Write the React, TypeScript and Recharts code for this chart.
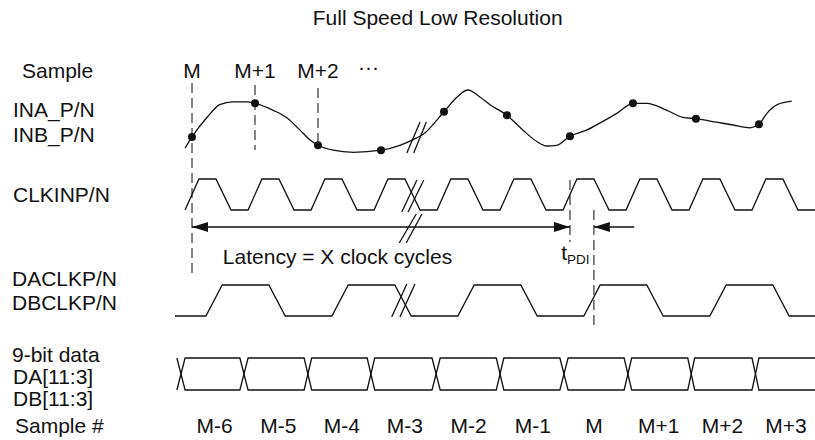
import React from 'react';
import { ComposedChart, Line, Scatter, XAxis, YAxis, ReferenceLine } from 'recharts';

// ---------------- data ----------------
// time axis in clock cycles; 0 = CLKIN rising edge that samples "M"
const title = 'Full Speed Low Resolution';

// CLKINP/N vertices (time, level)
const clkT = [-0.11, 0.11, 0.38, 0.62, 0.89, 1.11, 1.38, 1.62, 1.89, 2.11, 2.38, 2.62, 2.89, 3.11, 3.38, 3.62,
  3.89, 4.11, 4.38, 4.62, 4.89, 5.11, 5.38, 5.62, 5.89, 6.11, 6.38, 6.62, 6.89, 7.11, 7.38, 7.62,
  7.89, 8.11, 8.38, 8.62, 8.89, 9.11, 9.38, 9.62, 9.89];
const clkLevel = [0, 1, 1, 0, 0, 1, 1, 0, 0, 1, 1, 0, 0, 1, 1, 0, 0, 1, 1, 0, 0, 1, 1, 0, 0, 1, 1, 0, 0, 1, 1, 0,
  0, 1, 1, 0, 0, 1, 1, 0, 0];

// DACLKP/N, DBCLKP/N vertices
const dclkT = [-0.27, 0.22, 0.48, 1.22, 1.48, 2.22, 2.48, 3.22, 3.48, 4.22, 4.48, 5.22, 5.48, 6.22, 6.48,
  7.22, 7.48, 8.22, 8.48, 9.22, 9.48, 9.89];
const dclkLevel = [0, 0, 1, 1, 0, 0, 1, 1, 0, 0, 1, 1, 0, 0, 1, 1, 0, 0, 1, 1, 0, 0];

// data bus transitions (start / end of each crossing)
const dataTxStart = [-0.24, 0.76, 1.78, 2.78, 3.81, 4.83, 5.84, 6.86, 7.87, 8.89];
const dataTxEnd = [-0.11, 0.89, 1.9, 2.9, 3.94, 4.95, 5.97, 6.98, 7.98, 9.0];

// analog input INA/INB (normalised amplitude)
const analogT = [-0.11, 0, 0.24, 0.44, 0.65, 0.87, 1.0, 1.29, 1.51, 1.71, 1.87, 2.0, 2.24, 2.56, 3.0, 3.3, 3.51,
  3.7, 4.0, 4.21, 4.38, 4.57, 4.73, 5.0, 5.25, 5.48, 5.63, 5.79, 6.0, 6.27, 6.48, 6.75, 7.0, 7.22, 7.54, 7.79,
  8.0, 8.33, 8.59, 8.86, 9.0, 9.13, 9.29, 9.52];
const analogV = [0.17, 0.33, 0.61, 0.79, 0.83, 0.83, 0.81, 0.71, 0.6, 0.43, 0.29, 0.21, 0.14, 0.11, 0.14, 0.21, 0.29,
  0.39, 0.69, 0.9, 1.0, 0.9, 0.79, 0.64, 0.43, 0.26, 0.2, 0.21, 0.34, 0.43, 0.53, 0.67, 0.81, 0.81, 0.71, 0.61,
  0.59, 0.54, 0.5, 0.46, 0.51, 0.67, 0.79, 0.84];

// sampling instants and sampled values
const sampleT = [0, 1, 2, 3, 4, 5, 6, 7, 8, 9];
const sampleV = [0.33, 0.81, 0.21, 0.14, 0.69, 0.64, 0.34, 0.81, 0.59, 0.51];

// labels
const topLabels = ['M', 'M+1', 'M+2', '···'];
const topLabelT = [0, 1, 2, 2.8];
const outputSamples = ['M-6', 'M-5', 'M-4', 'M-3', 'M-2', 'M-1', 'M', 'M+1', 'M+2', 'M+3'];
const outputSampleT = [0.36, 1.37, 2.38, 3.38, 4.39, 5.41, 6.38, 7.41, 8.42, 9.43];
const laneLabels = ['Sample', 'INA_P/N', 'INB_P/N', 'CLKINP/N', 'DACLKP/N', 'DBCLKP/N', '9-bit data', 'DA[11:3]', 'DB[11:3]', 'Sample #'];
const latencyLabel = 'Latency = X clock cycles';
const markerT = [0, 1, 2];
const latencyEndT = 6.0;
const tpdiEndT = 6.38;

// ---------------- layout / style ----------------
const W = 815;
const H = 440;
const AXIS_W = 175;
const T_MIN = -0.27;
const T_MAX = 9.89;
const FONT = '"Liberation Sans", Arial, Helvetica, sans-serif';
const FS = 21;
const INK = '#111';
const DASH = '#444';
const SW = 1.3;

const ANALOG = { zero: 160, scale: 70 };
const CLK_LANE = { low: 210, high: 179 };
const DCLK_LANE = { low: 316, high: 285 };
const DATA_LANE = { low: 390, high: 358 };
const laneLabelY = [78, 117, 142, 202, 286, 310, 362, 384, 406, 433];
const laneLabelIndent = [22, 13, 13, 13, 12, 12, 12, 13, 13, 15];

const levelY = (lane: { low: number; high: number }, lv: number) => lane.low + (lane.high - lane.low) * lv;

const clkData = clkT.map((t, i) => ({ x: t, y: levelY(CLK_LANE, clkLevel[i]) }));
const dclkData = dclkT.map((t, i) => ({ x: t, y: levelY(DCLK_LANE, dclkLevel[i]) }));
const analogData = analogT.map((t, i) => ({ x: t, y: ANALOG.zero - ANALOG.scale * analogV[i] }));
const sampleData = sampleT.map((t, i) => ({ x: t, y: ANALOG.zero - ANALOG.scale * sampleV[i] }));

const eyeA: { x: number; y: number }[] = [];
const eyeB: { x: number; y: number }[] = [];
{
  let lv = 1;
  dataTxStart.forEach((s, i) => {
    eyeA.push({ x: s, y: levelY(DATA_LANE, lv) });
    eyeB.push({ x: s, y: levelY(DATA_LANE, 1 - lv) });
    lv = 1 - lv;
    eyeA.push({ x: dataTxEnd[i], y: levelY(DATA_LANE, lv) });
    eyeB.push({ x: dataTxEnd[i], y: levelY(DATA_LANE, 1 - lv) });
  });
  eyeA.push({ x: T_MAX, y: levelY(DATA_LANE, lv) });
  eyeB.push({ x: T_MAX, y: levelY(DATA_LANE, 1 - lv) });
}

const TOP_ROW_Y = 78;
const BOTTOM_ROW_Y = 433;
const ARROW_Y = 227;
const topLabelData = topLabels.map((l, i) => ({ x: topLabelT[i], y: l === '···' ? TOP_ROW_Y - 4 : TOP_ROW_Y, label: l }));
const outputLabelData = outputSamples.map((l, i) => ({ x: outputSampleT[i], y: BOTTOM_ROW_Y, label: l }));
const titleData = [{ x: 3.9, y: 25, label: title }];
const latencyData = [{ x: 0.49, y: 264, label: latencyLabel }];
const tpdiData = [{ x: 5.86, y: 260, label: 't' }];
const arrowData = [
  { x: markerT[0], y: ARROW_Y, dir: -1 },
  { x: latencyEndT, y: ARROW_Y, dir: 1 },
  { x: tpdiEndT, y: ARROW_Y, dir: -1 },
];

// vertical extents of dashed markers
const markerSpan = [[83, 273], [85, 150], [88, 145]];

// break marks (pairs of slashes)
const breakMarks = [
  [[3.41, 153], [3.62, 122]], [[3.52, 153], [3.72, 122]],
  [[3.33, 212], [3.57, 180]], [[3.43, 212], [3.68, 180]],
  [[3.29, 243], [3.56, 214]], [[3.4, 243], [3.65, 214]],
  [[3.17, 317], [3.41, 284]], [[3.3, 317], [3.54, 284]],
];

const textShape = (size: number, anchor: 'start' | 'middle' | 'end') => (p: any) => (
  <text x={p.cx} y={p.cy} fontSize={size} fontFamily={FONT} textAnchor={anchor} fill={INK}>
    {p.payload.label}
  </text>
);

const tpdiShape = (p: any) => (
  <text x={p.cx} y={p.cy} fontSize={FS} fontFamily={FONT} fill={INK}>
    {p.payload.label}
    <tspan fontSize={13.5} dy={4}>PDI</tspan>
  </text>
);

const arrowShape = (p: any) => {
  const d = p.payload.dir;
  const L = 16;
  const h = 5;
  return (
    <path
      d={`M${p.cx},${p.cy} L${p.cx - d * L},${p.cy - h} L${p.cx - d * L},${p.cy + h} Z`}
      fill={INK}
      stroke="none"
    />
  );
};

const dotShape = (p: any) => <circle cx={p.cx} cy={p.cy} r={4} fill={INK} />;

const LaneTick = (props: any) => {
  const i = laneLabelY.indexOf(props.payload.value);
  if (i < 0) return null;
  return (
    <text x={props.x - AXIS_W + laneLabelIndent[i]} y={props.y} fontSize={FS} fontFamily={FONT} fill={INK}>
      {laneLabels[i]}
    </text>
  );
};

export default function App() {
  return (
    <div style={{ position: 'absolute', left: 0, top: 0, width: W, height: H, background: '#fff' }}>
      <ComposedChart width={W} height={H} margin={{ top: 0, right: 0, bottom: 0, left: 0 }}>
        <XAxis type="number" dataKey="x" domain={[T_MIN, T_MAX]} hide />
        <YAxis
          type="number"
          dataKey="y"
          domain={[0, H]}
          reversed
          width={AXIS_W}
          ticks={laneLabelY}
          interval={0}
          tick={LaneTick}
          tickSize={0}
          tickMargin={0}
          axisLine={false}
          tickLine={false}
        />

        {markerT.map((t, i) => (
          <ReferenceLine
            key={'m' + i}
            segment={[{ x: t, y: markerSpan[i][0] }, { x: t, y: markerSpan[i][1] }]}
            stroke={DASH}
            strokeWidth={SW}
            strokeDasharray="10 5"
            ifOverflow="visible"
          />
        ))}
        <ReferenceLine segment={[{ x: latencyEndT, y: 180 }, { x: latencyEndT, y: 242 }]} stroke={DASH} strokeWidth={SW} strokeDasharray="10 5" ifOverflow="visible" />
        <ReferenceLine segment={[{ x: tpdiEndT, y: 210 }, { x: tpdiEndT, y: 328 }]} stroke={DASH} strokeWidth={SW} strokeDasharray="10 5" ifOverflow="visible" />

        <ReferenceLine segment={[{ x: markerT[0], y: ARROW_Y }, { x: latencyEndT, y: ARROW_Y }]} stroke={INK} strokeWidth={SW} ifOverflow="visible" />
        <ReferenceLine segment={[{ x: tpdiEndT, y: ARROW_Y }, { x: 7.02, y: ARROW_Y }]} stroke={INK} strokeWidth={SW} ifOverflow="visible" />

        {breakMarks.map((s, i) => (
          <ReferenceLine
            key={'b' + i}
            segment={[{ x: s[0][0], y: s[0][1] }, { x: s[1][0], y: s[1][1] }]}
            stroke={INK}
            strokeWidth={SW}
            ifOverflow="visible"
          />
        ))}

        <Line data={analogData} dataKey="y" type="monotone" stroke={INK} strokeWidth={SW} dot={false} isAnimationActive={false} />
        <Line data={clkData} dataKey="y" type="linear" stroke={INK} strokeWidth={SW} dot={false} isAnimationActive={false} />
        <Line data={dclkData} dataKey="y" type="linear" stroke={INK} strokeWidth={SW} dot={false} isAnimationActive={false} />
        <Line data={eyeA} dataKey="y" type="linear" stroke={INK} strokeWidth={SW} dot={false} isAnimationActive={false} />
        <Line data={eyeB} dataKey="y" type="linear" stroke={INK} strokeWidth={SW} dot={false} isAnimationActive={false} />

        <Scatter data={sampleData} shape={dotShape} isAnimationActive={false} />
        <Scatter data={arrowData} shape={arrowShape} isAnimationActive={false} />
        <Scatter data={titleData} shape={textShape(FS, 'middle')} isAnimationActive={false} />
        <Scatter data={topLabelData} shape={textShape(FS, 'middle')} isAnimationActive={false} />
        <Scatter data={outputLabelData} shape={textShape(FS, 'middle')} isAnimationActive={false} />
        <Scatter data={latencyData} shape={textShape(FS, 'start')} isAnimationActive={false} />
        <Scatter data={tpdiData} shape={tpdiShape} isAnimationActive={false} />
      </ComposedChart>
    </div>
  );
}
